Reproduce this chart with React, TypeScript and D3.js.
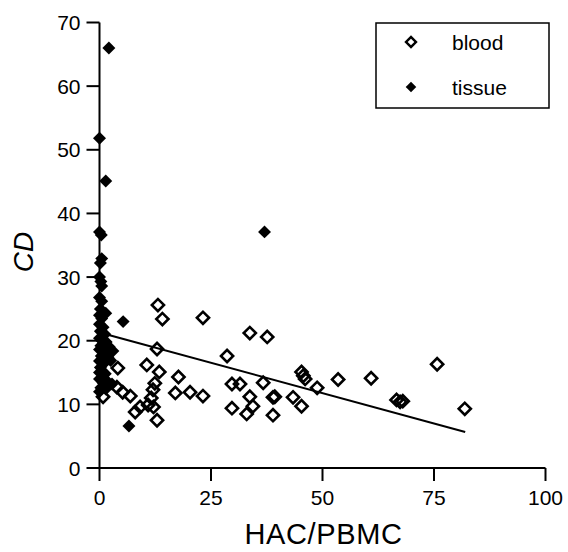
// @ts-nocheck
import React from 'react';
import * as d3 from 'd3';

// HAC/PBMC vs CD, two sample types
const blood = [
    [0.8, 11.2], [4.1, 15.7], [3.9, 12.7], [5.2, 11.9], [6.9, 11.3], [8.0, 8.8], [9.1, 9.6],
    [10.6, 16.2], [12.9, 18.7], [13.1, 25.6], [14.1, 23.4], [13.4, 15.1], [17.7, 14.3],
    [17.0, 11.8], [20.3, 11.9], [23.2, 11.3], [23.2, 23.6], [11.6, 11.0], [10.9, 9.9],
    [12.0, 12.3], [12.1, 9.6], [12.9, 7.5], [12.4, 13.3], [28.6, 17.6], [29.7, 13.2],
    [31.5, 13.2], [33.7, 21.2], [37.6, 20.6], [36.7, 13.4], [33.7, 11.2], [34.4, 9.7],
    [29.7, 9.4], [33.0, 8.5], [38.9, 11.1], [39.3, 11.2], [38.9, 8.3], [43.4, 11.1],
    [45.3, 9.7], [45.3, 15.1], [45.7, 14.5], [46.1, 14.0], [48.8, 12.6], [53.5, 13.9],
    [60.9, 14.1], [75.7, 16.3], [66.6, 10.7], [67.4, 10.4], [68.0, 10.5], [81.9, 9.3],
];

const tissue = [
    [2.1, 66.0], [0.0, 51.8], [1.4, 45.1], [0.0, 37.1], [0.4, 36.6], [0.5, 32.9], [0.2, 32.2],
    [0.0, 30.0], [0.5, 28.6], [0.3, 29.3], [0.0, 26.8], [0.5, 26.2], [0.2, 25.0], [0.0, 24.0],
    [1.4, 24.3], [0.5, 23.5], [5.3, 23.0], [0.0, 22.6], [0.8, 22.1], [0.2, 21.5], [1.2, 21.0],
    [0.0, 20.4], [0.6, 20.0], [1.5, 19.8], [0.3, 19.2], [2.2, 19.0], [0.0, 18.6], [1.0, 18.3],
    [3.0, 18.4], [0.4, 17.6], [1.9, 17.4], [0.0, 16.8], [0.8, 16.3], [2.5, 16.9], [0.2, 15.8],
    [0.0, 15.0], [1.3, 14.8], [0.0, 14.0], [0.8, 13.4], [1.9, 13.5], [2.8, 13.2], [0.3, 12.6],
    [1.4, 12.4], [0.0, 12.0], [37.0, 37.1], [6.6, 6.6],
];

const fit = [[0, 21.3], [82, 5.65]];

const xTicks = [0, 25, 50, 75, 100];
const yTicks = [0, 10, 20, 30, 40, 50, 60, 70];

const font = '"Liberation Sans", Arial, sans-serif';

export default function App() {
    const w = 568;
    const h = 552;

    const x = d3.scaleLinear().domain([0, 100]).range([99.5, 545.5]);
    const y = d3.scaleLinear().domain([0, 70]).range([468, 22.5]);

    const sq = d3.symbol().type(d3.symbolSquare);
    const openPath = sq.size(74)();
    const fillPath = sq.size(84)();
    const legOpen = sq.size(50)();
    const legFill = sq.size(56)();

    const line = d3.line().x((d) => x(d[0])).y((d) => y(d[1]));

    return (
        <svg width={w} height={h} style={{ position: 'absolute', left: 0, top: 0, background: 'white' }}>
            {/* x axis */}
            <line x1={x(0)} x2={x(100)} y1={y(0)} y2={y(0)} stroke="black" strokeWidth={2} />
            {xTicks.map((t) => (
                <g key={t} transform={`translate(${x(t)},${y(0)})`}>
                    <line y1={0} y2={13} stroke="black" strokeWidth={2} />
                    <text y={37} textAnchor="middle" fontFamily={font} fontSize={21}>{t}</text>
                </g>
            ))}
            {/* y axis */}
            <line x1={x(0)} x2={x(0)} y1={y(0)} y2={y(70)} stroke="black" strokeWidth={2} />
            {yTicks.map((t) => (
                <g key={t} transform={`translate(${x(0)},${y(t)})`}>
                    <line x1={0} x2={-13} stroke="black" strokeWidth={2} />
                    <text x={-19} y={7.5} textAnchor="end" fontFamily={font} fontSize={21}>{t}</text>
                </g>
            ))}
            <text x={323.5} y={544} textAnchor="middle" fontFamily={font} fontSize={29}
                letterSpacing={0.6}>HAC/PBMC</text>
            <text transform="translate(33,252) rotate(-90)" textAnchor="middle" fontFamily={font}
                fontSize={28} fontStyle="italic">CD</text>

            <path d={line(fit)} fill="none" stroke="black" strokeWidth={2} />

            {blood.map((d, i) => (
                <path key={'b' + i} d={openPath} transform={`translate(${x(d[0])},${y(d[1])}) rotate(45)`}
                    fill="white" fillOpacity={0} stroke="black" strokeWidth={2.6} />
            ))}
            {tissue.map((d, i) => (
                <path key={'t' + i} d={fillPath} transform={`translate(${x(d[0])},${y(d[1])}) rotate(45)`}
                    fill="black" />
            ))}

            {/* legend */}
            <rect x={376} y={23} width={173} height={85} fill="white" stroke="black" strokeWidth={1.5} />
            <path d={legOpen} transform="translate(411,42) rotate(45)" fill="none" stroke="black" strokeWidth={2.4} />
            <text x={452} y={50} fontFamily={font} fontSize={21}>blood</text>
            <path d={legFill} transform="translate(411,87) rotate(45)" fill="black" />
            <text x={452} y={95} fontFamily={font} fontSize={21}>tissue</text>
        </svg>
    );
}
